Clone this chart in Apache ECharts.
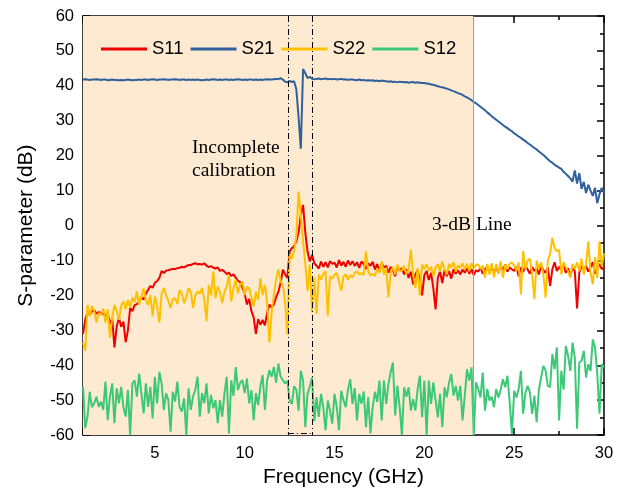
<!DOCTYPE html>
<html>
<head>
<meta charset="utf-8">
<script src="https://cdn.jsdelivr.net/npm/echarts@6/dist/echarts.min.js"></script>
<style>
  html, body { margin: 0; padding: 0; background: #fff; }
  #chart { width: 627px; height: 493px; }
</style>
</head>
<body>
<div id="chart"></div>
<script>
// sweep grid: 1 GHz to 30 GHz, 0.125 GHz step (233 points)
const FREQ_START = 1;
const FREQ_STEP = 0.125;

const seriesNames = ['S11', 'S21', 'S22', 'S12'];

// values, one row per GHz (8 points) + last point at 30 GHz
const s11 = [
  -31.0, -27.0, -24.9, -25.5, -24.6, -24.3, -25.2, -24.8,
  -25.0, -25.4, -25.7, -25.2, -28.2, -26.5, -34.9, -29.0,
  -26.4, -29.0, -27.5, -33.4, -30.0, -23.6, -24.5, -22.8,
  -22.5, -21.8, -20.6, -21.2, -19.5, -18.4, -17.3, -17.8,
  -16.4, -15.9, -15.0, -13.0, -13.6, -12.9, -12.8, -12.6,
  -12.4, -12.5, -12.2, -12.1, -11.8, -12.0, -11.6, -11.3,
  -11.3, -11.0, -10.8, -11.1, -11.0, -11.2, -10.8, -11.5,
  -11.9, -11.6, -12.1, -12.3, -12.0, -13.0, -12.7, -13.2,
  -13.9, -13.5, -14.4, -14.0, -14.9, -15.8, -16.2, -17.8,
  -19.5, -22.6, -21.0, -24.5, -26.3, -31.0, -26.8, -28.4,
  -27.0, -28.6, -25.0, -22.6, -23.5, -22.6, -20.5, -19.0,
  -16.4, -12.6, -14.0, -15.0, -7.4, -6.5, -5.9, -4.5,
  -2.0, 3.0, 5.9, -2.0, -7.5, -10.3, -8.4, -10.8,
  -11.5, -12.3, -10.3, -11.8, -10.5, -12.0, -10.2, -11.0,
  -10.6, -12.0, -9.9, -11.5, -10.4, -11.8, -10.0, -11.3,
  -10.2, -11.6, -10.5, -12.1, -10.3, -11.0, -12.4, -10.8,
  -11.5, -10.4, -12.6, -11.0, -13.2, -10.8, -12.0, -11.5,
  -13.5, -11.8, -12.8, -14.5, -11.6, -13.0, -12.2, -14.0,
  -12.5, -15.0, -13.2, -16.8, -14.0, -12.8, -15.5, -20.0,
  -14.2, -13.0, -15.6, -13.5, -18.0, -24.0, -15.0, -13.2,
  -16.5, -12.8, -14.5, -13.0, -15.2, -12.5, -13.8, -12.8,
  -14.0, -12.6, -13.5, -12.2, -13.8, -12.5, -14.2, -12.8,
  -13.2, -12.0, -13.8, -12.5, -11.8, -13.3, -12.4, -13.0,
  -12.2, -13.5, -11.5, -12.8, -11.2, -13.2, -12.0, -12.5,
  -13.0, -11.8, -14.5, -12.0, -13.3, -11.5, -12.6, -13.8,
  -11.9, -13.0, -12.2, -14.0, -11.5, -12.8, -13.5, -12.0,
  -17.3, -12.5, -10.5, -13.0, -11.8, -12.8, -11.2, -13.5,
  -12.2, -14.5, -12.0, -13.0, -23.7, -13.5, -11.5, -12.8,
  -11.5, -13.2, -12.0, -10.5, -13.8, -12.2, -11.0, -12.5,
  -11.8
];

const s21 = [
  41.8, 41.9, 41.8, 41.7, 41.8, 41.8, 41.9, 41.8,
  41.7, 41.8, 41.8, 41.6, 41.7, 41.8, 41.7, 41.7,
  41.6, 41.7, 41.6, 41.7, 41.8, 41.7, 41.6, 41.7,
  41.7, 41.8, 41.7, 41.8, 41.8, 41.7, 41.8, 41.9,
  41.8, 41.7, 41.8, 41.8, 41.9, 41.8, 41.7, 41.8,
  41.8, 41.9, 41.8, 41.7, 41.8, 41.8, 41.7, 41.8,
  41.7, 41.8, 41.7, 41.8, 41.7, 41.6, 41.7, 41.8,
  41.7, 41.8, 41.9, 41.8, 41.7, 41.8, 41.7, 41.8,
  41.8, 41.7, 41.8, 41.7, 41.8, 41.9, 41.8, 41.7,
  41.8, 41.7, 41.8, 41.8, 41.7, 41.8, 41.7, 41.8,
  41.7, 41.8, 41.9, 41.8, 41.8, 41.9, 42.0, 41.9,
  42.2, 41.8, 41.2, 41.0, 41.4, 41.1, 41.3, 39.0,
  31.0, 22.0, 44.8, 43.6, 42.2, 42.6, 42.0, 41.9,
  42.0, 42.1, 41.9, 42.0, 42.1, 41.9, 42.0, 41.9,
  42.0, 41.8, 41.9, 42.0, 41.8, 41.9, 41.7, 41.8,
  41.8, 41.7, 41.6, 41.8, 41.6, 41.7, 41.5, 41.6,
  41.5, 41.6, 41.4, 41.5, 41.3, 41.5, 41.4, 41.3,
  41.2, 41.3, 41.1, 41.2, 41.0, 41.2, 41.1, 41.0,
  41.1, 40.9, 41.0, 41.1, 40.9, 41.0, 40.9, 40.8,
  40.8, 40.7, 40.6, 40.4, 40.3, 40.1, 39.9, 39.7,
  39.6, 39.4, 39.2, 39.0, 38.7, 38.5, 38.2, 37.9,
  37.7, 37.4, 37.0, 36.7, 36.3, 35.9, 35.4, 35.0,
  34.5, 34.0, 33.5, 33.0, 32.4, 31.9, 31.3, 30.8,
  30.3, 29.8, 29.3, 28.8, 28.3, 27.9, 27.4, 27.0,
  26.4, 26.0, 25.5, 25.1, 24.6, 24.2, 23.6, 23.2,
  22.7, 22.2, 21.8, 21.2, 20.7, 20.2, 19.6, 19.0,
  18.4, 18.0, 17.4, 17.0, 16.6, 16.2, 15.4, 14.8,
  14.2, 13.5, 12.6, 15.8, 12.0, 15.0, 10.5, 12.5,
  9.3, 11.7, 10.0, 8.5, 10.8, 6.4, 9.0, 10.8,
  9.4
];

const s22 = [
  -33.5, -35.8, -22.7, -26.0, -23.1, -24.5, -27.8, -25.0,
  -25.6, -23.8, -27.8, -24.0, -32.1, -26.4, -22.7, -24.5,
  -27.0, -23.0, -21.7, -24.0, -21.3, -23.5, -20.6, -22.0,
  -18.9, -22.7, -20.5, -18.0, -21.5, -22.7, -19.9, -26.0,
  -20.3, -23.0, -27.8, -19.5, -17.9, -19.9, -21.5, -23.6,
  -21.0, -20.8, -22.5, -18.5, -19.5, -22.2, -20.5, -17.9,
  -19.0, -23.6, -20.0, -18.9, -19.5, -17.9, -21.0, -27.4,
  -17.0, -20.0, -13.2, -20.8, -17.5, -18.9, -22.2, -19.0,
  -17.4, -14.1, -21.7, -18.0, -15.5, -19.4, -17.0, -16.0,
  -19.9, -17.5, -18.0, -20.5, -23.1, -19.0, -21.3, -15.1,
  -19.9, -17.0, -22.0, -33.5, -25.0, -19.9, -15.5, -12.6,
  -16.0, -17.0, -22.0, -31.2, -8.3, -9.5, -7.4, -3.0,
  9.7, 3.1, -4.5, -11.0, -18.7, -11.2, -24.9, -14.9,
  -25.3, -14.0, -15.5, -13.8, -13.1, -25.8, -14.5, -15.2,
  -14.0, -13.6, -16.0, -18.7, -14.5, -14.0, -15.5, -14.2,
  -14.9, -13.5, -13.1, -14.0, -13.6, -14.2, -7.4, -13.1,
  -14.3, -13.8, -14.5, -12.3, -13.5, -10.3, -14.0, -12.0,
  -20.6, -13.5, -11.8, -14.0, -11.2, -13.0, -12.9, -11.5,
  -14.0, -12.5, -6.9, -14.0, -17.8, -12.2, -20.0, -11.2,
  -12.5, -11.0, -13.0, -11.8, -14.5, -12.0, -11.0, -13.2,
  -10.3, -12.5, -14.0, -11.0, -12.0, -10.5, -13.2, -11.5,
  -12.0, -10.8, -12.6, -11.0, -13.1, -10.8, -12.2, -11.3,
  -11.1, -12.5, -11.5, -14.9, -11.0, -14.0, -10.8, -14.9,
  -11.0, -13.8, -10.2, -14.9, -11.2, -12.5, -11.0, -10.5,
  -11.5, -13.0, -10.5, -19.7, -7.3, -12.5, -10.0, -9.5,
  -14.0, -21.1, -10.0, -12.5, -10.5, -14.0, -20.6, -10.0,
  -8.0, -3.5, -6.4, -7.3, -7.0, -14.0, -10.5, -12.0,
  -13.0, -14.9, -11.0, -12.5, -10.5, -13.0, -9.5, -14.0,
  -11.0, -4.5, -13.5, -16.8, -9.0, -15.0, -4.5, -11.5,
  -8.0
];

const s12 = [
  -46.2, -58.0, -54.7, -47.6, -52.0, -50.9, -49.0, -51.9,
  -50.4, -52.8, -44.7, -55.7, -49.0, -45.2, -56.6, -46.6,
  -50.9, -46.2, -52.0, -54.7, -47.1, -60.0, -45.2, -44.3,
  -49.0, -42.4, -48.0, -53.8, -45.2, -51.9, -46.2, -55.2,
  -43.3, -50.9, -41.9, -45.2, -52.8, -48.0, -50.0, -59.0,
  -47.6, -50.4, -44.7, -51.9, -53.3, -49.5, -60.0, -46.6,
  -52.8, -49.0, -47.0, -43.3, -54.7, -48.0, -50.9, -45.2,
  -53.8, -48.5, -52.3, -50.0, -56.6, -50.0, -54.7, -48.0,
  -43.3, -59.5, -44.3, -48.8, -40.5, -47.1, -45.0, -44.3,
  -48.0, -43.8, -50.9, -47.1, -55.7, -48.0, -51.4, -46.0,
  -42.8, -52.8, -44.3, -41.4, -43.3, -40.5, -45.0, -39.5,
  -43.3, -44.3, -45.2, -44.5, -50.0, -51.1, -46.0, -47.0,
  -53.0, -41.6, -44.4, -57.7, -48.2, -46.0, -43.5, -56.0,
  -49.1, -54.8, -48.2, -52.0, -58.6, -50.1, -53.0, -56.7,
  -48.2, -52.0, -58.6, -47.3, -50.0, -52.0, -47.0, -44.0,
  -51.1, -46.5, -55.8, -48.2, -51.0, -47.5, -57.7, -49.1,
  -59.5, -52.0, -47.6, -50.5, -44.4, -55.8, -44.4, -51.1,
  -45.4, -42.0, -39.2, -54.4, -45.9, -52.0, -60.0, -46.3,
  -49.0, -46.3, -53.0, -49.7, -53.0, -47.0, -43.0, -54.9,
  -44.4, -60.0, -44.4, -51.1, -44.9, -50.0, -54.9, -48.2,
  -57.7, -46.3, -49.2, -45.0, -42.5, -48.7, -45.9, -50.1,
  -45.9, -55.8, -48.7, -41.1, -44.4, -40.6, -60.0, -44.9,
  -46.8, -49.2, -42.1, -53.0, -46.8, -50.1, -49.0, -52.0,
  -46.8, -49.2, -47.0, -44.0, -46.3, -43.0, -50.6, -59.6,
  -47.3, -49.2, -46.8, -41.6, -53.9, -48.0, -45.9, -47.8,
  -53.9, -48.7, -56.3, -47.0, -43.5, -40.2, -41.6, -45.9,
  -46.3, -36.8, -41.1, -34.9, -55.8, -41.6, -47.0, -34.5,
  -37.3, -41.6, -33.5, -37.8, -58.2, -39.2, -38.7, -35.9,
  -43.5, -39.7, -41.6, -32.6, -34.9, -42.5, -53.9, -39.7,
  -40.6
];

const seriesColors = ['#f00000', '#2f5f9d', '#ffc000', '#3dc878'];

// annotation positions (GHz / dB)
const UNCAL_FROM = 12.4;
const UNCAL_TO = 13.75;
const BOX_BOTTOM = -59.4;
const CUTOFF_3DB = 22.7;

const withFreq = (vals) => vals.map((v, i) => [FREQ_START + i * FREQ_STEP, v]);

const chart = echarts.init(document.getElementById('chart'), null, { renderer: 'canvas' });

const FONT = '"Liberation Sans", Arial, sans-serif';
const SERIF = '"Liberation Serif", "Times New Roman", serif';
const axisLine = { show: true, onZero: false, lineStyle: { color: '#000', width: 1.5 } };
const tick = { show: true, inside: true, length: 7, lineStyle: { color: '#000', width: 1.5 } };
const minor = { show: true, splitNumber: 2, length: 4, lineStyle: { color: '#000', width: 1.5 } };

const dashDot = { color: '#000', width: 1, type: [6, 3, 1, 3] };

chart.setOption({
  animation: false,
  backgroundColor: '#fff',
  grid: { left: 83, right: 23, top: 16, bottom: 56 },
  legend: {
    data: seriesNames,
    icon: 'rect',
    left: 101,
    top: 38,
    padding: 0,
    itemWidth: 46,
    itemHeight: 3,
    itemGap: 7,
    textStyle: { fontSize: 18.5, fontFamily: FONT, color: '#000', lineHeight: 22 },
  },
  xAxis: [
    {
      type: 'value', position: 'bottom', min: 1, max: 30, splitNumber: 6,
      axisLine, axisTick: tick, minorTick: minor, splitLine: { show: false },
      axisLabel: { showMinLabel: false, color: '#000', fontSize: 16.5, fontFamily: FONT, margin: 10 },
      name: 'Frequency (GHz)', nameLocation: 'middle', nameGap: 31,
      nameTextStyle: { fontSize: 21, fontFamily: FONT, color: '#000' },
    },
    {
      type: 'value', position: 'top', min: 1, max: 30, splitNumber: 6,
      axisLine, axisTick: tick, minorTick: minor, splitLine: { show: false },
      axisLabel: { show: false },
    },
  ],
  yAxis: [
    {
      type: 'value', position: 'left', min: -60, max: 60, interval: 10,
      axisLine, axisTick: tick, minorTick: minor, splitLine: { show: false },
      axisLabel: { color: '#000', fontSize: 16.5, fontFamily: FONT, margin: 9 },
      name: 'S-parameter (dB)', nameLocation: 'middle', nameGap: 46, nameRotate: 90,
      nameTextStyle: { fontSize: 21, fontFamily: FONT, color: '#000' },
    },
    {
      type: 'value', position: 'right', min: -60, max: 60, interval: 10,
      axisLine, axisTick: tick, minorTick: minor, splitLine: { show: false },
      axisLabel: { show: false },
    },
  ],
  series: [
    {
      name: 'zone', type: 'line', data: [], silent: true,
      markArea: {
        silent: true,
        itemStyle: { color: '#fdead0', opacity: 1 },
        data: [[{ xAxis: FREQ_START }, { xAxis: CUTOFF_3DB }]],
      },
      markLine: {
        silent: true, symbol: 'none', label: { show: false },
        data: [
          [{ coord: [UNCAL_FROM, 60], lineStyle: dashDot }, { coord: [UNCAL_FROM, -60] }],
          [{ coord: [UNCAL_TO, 60], lineStyle: dashDot }, { coord: [UNCAL_TO, -60] }],
          [{ coord: [UNCAL_FROM, BOX_BOTTOM], lineStyle: dashDot }, { coord: [UNCAL_TO, BOX_BOTTOM] }],
          [{ coord: [CUTOFF_3DB, 60], lineStyle: { color: '#a0a0a0', width: 1, type: 'solid' } },
           { coord: [CUTOFF_3DB, -60] }],
        ],
      },
    },
    ...[s11, s21, s22, s12].map((vals, k) => ({
      name: seriesNames[k],
      type: 'line',
      data: withFreq(vals),
      symbol: 'none',
      color: seriesColors[k],
      lineStyle: { color: seriesColors[k], width: 2 },
    })),
  ],
  graphic: [
    { type: 'text', z: 100, left: 192, top: 138, style: { text: 'Incomplete', font: '19.5px ' + SERIF, fill: '#000' } },
    { type: 'text', z: 100, left: 192, top: 161, style: { text: 'calibration', font: '19.5px ' + SERIF, fill: '#000' } },
    { type: 'text', z: 100, left: 432, top: 215, style: { text: '3-dB Line', font: '19.5px ' + SERIF, fill: '#000' } },
  ],
});
</script>
</body>
</html>
